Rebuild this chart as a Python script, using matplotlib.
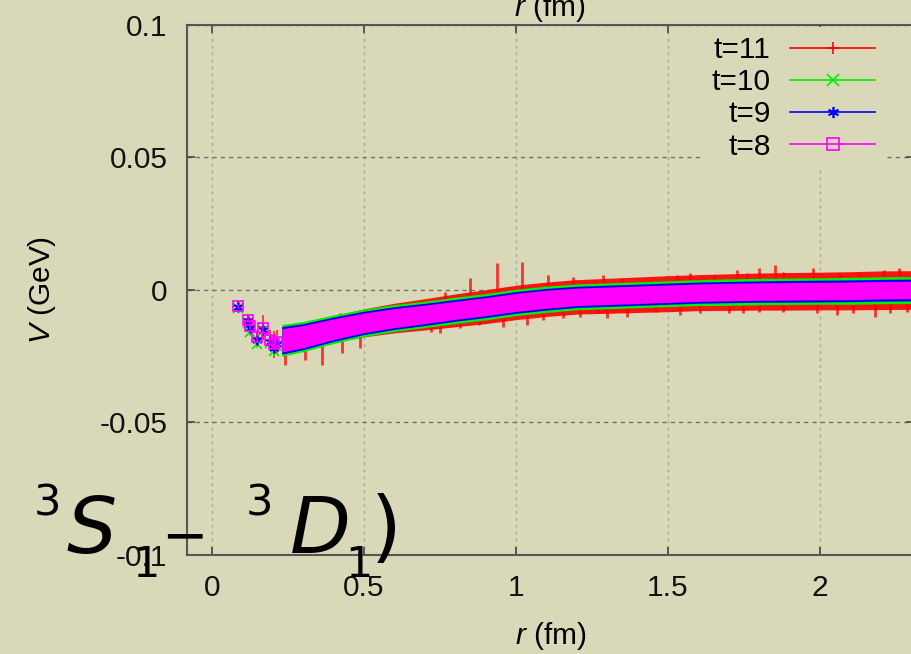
import matplotlib
matplotlib.use("Agg")
import matplotlib.pyplot as plt
from matplotlib.lines import Line2D

plt.rcParams["font.family"] = ["Liberation Sans", "DejaVu Sans"]
plt.rcParams["mathtext.fontset"] = "custom"
plt.rcParams["mathtext.rm"] = "Liberation Sans"
plt.rcParams["mathtext.it"] = "Liberation Sans:italic"

bg = "#d9d8b9"

# dense part of the data, every 0.1 fm (centre + half widths)
r_band = [0.23, 0.3, 0.4, 0.5, 0.6, 0.7, 0.8, 0.9, 1.0, 1.1, 1.2,
          1.3, 1.4, 1.5, 1.6, 1.7, 1.8, 1.9, 2.0, 2.1, 2.2, 2.32]
v_band = [-0.0190, -0.0176, -0.0148, -0.0124, -0.0106, -0.0092, -0.0077, -0.0063,
          -0.0047, -0.0035, -0.0026, -0.0022, -0.0018, -0.0014, -0.0010, -0.0008,
          -0.0006, -0.0005, -0.0004, -0.0003, -0.0001, 0.0000]
err_t8 = [0.0044, 0.0042, 0.0039, 0.0037, 0.0036, 0.0035, 0.0034, 0.0034, 0.0034, 0.0034, 0.0033,
          0.0033, 0.0033, 0.0033, 0.0033, 0.0033, 0.0033, 0.0033, 0.0033, 0.0033, 0.0033, 0.0033]
err_t9 = [0.0052, 0.0049, 0.0046, 0.0044, 0.0043, 0.0042, 0.0041, 0.0041, 0.0041, 0.0041, 0.0040,
          0.0040, 0.0040, 0.0040, 0.0040, 0.0040, 0.0040, 0.0041, 0.0041, 0.0041, 0.0041, 0.0041]
err_t10 = [0.0060, 0.0057, 0.0054, 0.0052, 0.0051, 0.0050, 0.0050, 0.0050, 0.0050, 0.0050, 0.0049,
           0.0049, 0.0049, 0.0049, 0.0049, 0.0050, 0.0050, 0.0050, 0.0050, 0.0051, 0.0051, 0.0051]
err_t11 = [0.0050, 0.0048, 0.0050, 0.0053, 0.0056, 0.0059, 0.0062, 0.0064, 0.0065, 0.0065, 0.0065,
           0.0066, 0.0067, 0.0068, 0.0068, 0.0069, 0.0070, 0.0071, 0.0071, 0.0072, 0.0073, 0.0073]

# large t=11 error bars sticking out of the band
spike_r = [0.316, 0.421, 0.628, 0.691, 0.766, 0.849, 0.938, 1.020, 1.105, 1.188, 1.286, 1.572,
           1.727, 1.800, 1.852, 2.210, 1.26, 1.35, 1.44, 1.53, 1.65, 1.76, 1.878, 1.977,
           2.066, 2.13, 2.26,
           0.240, 0.306, 0.362, 0.428, 0.487, 0.750, 0.957, 1.089, 1.300, 1.540, 1.700,
           1.800, 2.110, 2.180, 1.27, 1.365, 1.46, 1.605, 1.747, 1.878, 1.99, 2.056, 2.23,
           2.286, 0.72, 0.816, 0.88, 1.036, 1.155, 1.21]
spike_from = [-0.0170, -0.0145, -0.0100, -0.0095, -0.0083, -0.0068, -0.0058, -0.0045, -0.0036,
              -0.0028, -0.0022, -0.0012, -0.0007, -0.0006, -0.0005, -0.0001, -0.0024, -0.0020,
              -0.0017, -0.0013, -0.0010, -0.0007, -0.0005, -0.0004, -0.0003, -0.0003, -0.0001,
              -0.0190, -0.0175, -0.0160, -0.0143, -0.0127, -0.0085, -0.0055, -0.0037, -0.0022,
              -0.0013, -0.0008, -0.0006, -0.0003, -0.0002, -0.0024, -0.0019, -0.0016, -0.0010,
              -0.0007, -0.0005, -0.0004, -0.0003, -0.0001, -0.0001, -0.0090, -0.0075, -0.0065,
              -0.0045, -0.0033, -0.0028]
spike_to = [-0.0121, -0.0087, -0.0049, -0.0045, -0.0008, 0.0045, 0.0102, 0.0106, 0.0057,
            0.0049, 0.0057, 0.0064, 0.0075, 0.0083, 0.0094, 0.0075, 0.0038, 0.0045, 0.0038,
            0.0057, 0.0057, 0.0064, 0.0068, 0.0083, 0.0064, 0.0064, 0.0083,
            -0.0283, -0.0264, -0.0283, -0.0238, -0.0220, -0.0162, -0.0140, -0.0113, -0.0106,
            -0.0094, -0.0087, -0.0083, -0.0087, -0.0102, -0.0087, -0.0102, -0.0083, -0.0087,
            -0.0087, -0.0083, -0.0087, -0.0094, -0.0087, -0.0083, -0.0160, -0.0143, -0.0132,
            -0.0132, -0.0106, -0.0102]

# isolated points at small r
r_low = [0.085, 0.120, 0.124, 0.147, 0.168, 0.190, 0.205, 0.215]
v_low_t11 = [-0.0060, -0.0110, -0.0135, -0.0180, -0.0140, -0.0190, -0.0205, -0.0195]
v_low_t10 = [-0.0068, -0.0125, -0.0160, -0.0205, -0.0155, -0.0200, -0.0230, -0.0210]
v_low_t9 = [-0.0065, -0.0118, -0.0145, -0.0190, -0.0150, -0.0195, -0.0218, -0.0202]
v_low_t8 = [-0.0062, -0.0112, -0.0135, -0.0178, -0.0145, -0.0188, -0.0205, -0.0196]
e_low_t11 = [0.0010, 0.0020, 0.0025, 0.0030, 0.0047, 0.0040, 0.0050, 0.0045]
e_low_small = [0.0008, 0.0012, 0.0015, 0.0015, 0.0015, 0.0018, 0.0020, 0.0020]

labels = ["t=11", "t=10", "t=9", "t=8"]
colors = ["#ff0000", "#00ee00", "#0000ff", "#ff00ff"]
markers = ["+", "x", (6, 2, 0), "s"]

fig = plt.figure(figsize=(9.12, 6.54), dpi=100, facecolor=bg)
ax = fig.add_axes([0.205, 0.1514, 0.7971, 0.8104], facecolor=bg)

errs = [err_t11, err_t10, err_t9, err_t8]
lows = [v_low_t11, v_low_t10, v_low_t9, v_low_t8]
elows = [e_low_t11, e_low_small, e_low_small, e_low_small]
for k in range(4):
    lo = [v - e for v, e in zip(v_band, errs[k])]
    hi = [v + e for v, e in zip(v_band, errs[k])]
    ax.fill_between(r_band, lo, hi, color=colors[k], lw=0, alpha=0.9 if k == 0 else 1, zorder=2 + k)
    if k == 0:
        ax.vlines(spike_r, spike_from, spike_to, color=colors[0], lw=2.0, alpha=0.75, zorder=2)
    ax.errorbar(r_low, lows[k], yerr=elows[k], fmt="none", ecolor=colors[k], elinewidth=1.2,
                alpha=0.8, zorder=2 + k)
    ax.plot(r_low, lows[k], ls="none", marker=markers[k], color=colors[k], ms=7,
            mfc="none" if markers[k] == "s" else colors[k], mew=1.2, zorder=2 + k)

ax.set_xlim(-0.082, 2.309)
ax.set_ylim(-0.1, 0.1)
ax.set_xticks([0, 0.5, 1, 1.5, 2])
ax.set_xticklabels(["0", "0.5", "1", "1.5", "2"])
ax.set_yticks([-0.1, -0.05, 0, 0.05, 0.1])
ax.set_yticklabels(["-0.1", "-0.05", "0", "0.05", "0.1"])
ax.tick_params(direction="in", top=True, right=True, length=6, width=1.2,
               color="#444444", labelsize=21.5, pad=14, labelcolor="#111111")
ax.xaxis.grid(True, color="#a8a898", ls=(0, (2, 3)), lw=1.0)
ax.yaxis.grid(True, color="#707070", ls=(0, (3, 3)), lw=1.0)
ax.set_axisbelow(True)
for s in ax.spines.values():
    s.set_color("#555555")
    s.set_linewidth(1.5)

ax.set_xlabel("$r$ (fm)", fontsize=21.5, labelpad=13)
ax.set_ylabel("$V$ (GeV)", fontsize=21.5, labelpad=30)
fig.text(0.603, 1 - 8 / 654, "$r$ (fm)", fontsize=21.5, ha="center", va="center")

handles = [Line2D([], [], color=c, marker=m, lw=1.2, ms=8, mew=1.2,
                  mfc="none" if m == "s" else c) for c, m in zip(colors, markers)]
ax.legend(handles, labels, loc="upper right", bbox_to_anchor=(0.959, 0.996),
          markerfirst=False, fontsize=21.5, handlelength=2.85, handletextpad=0.65,
          labelspacing=0.14, borderpad=0.3, borderaxespad=0, frameon=True,
          facecolor=bg, edgecolor="none", framealpha=1, fancybox=False)


# big overlaid term symbol, placed piece by piece (pixel positions)
def put(px, py, s, size, italic=False):
    fig.text(px / 912, 1 - py / 654, s, fontsize=size, family="DejaVu Sans",
             style="italic" if italic else "normal", ha="left", va="baseline", zorder=10)


put(34, 515, "3", 31)
put(67, 553, "S", 57, italic=True)
put(132, 577, "1", 31)
put(161, 553, "\u2212", 40)
put(246, 515, "3", 31)
put(290, 553, "D", 57, italic=True)
put(345, 577, "1", 31)
put(371, 553, ")", 57)

fig.savefig("out.png", dpi=100, facecolor=bg)
